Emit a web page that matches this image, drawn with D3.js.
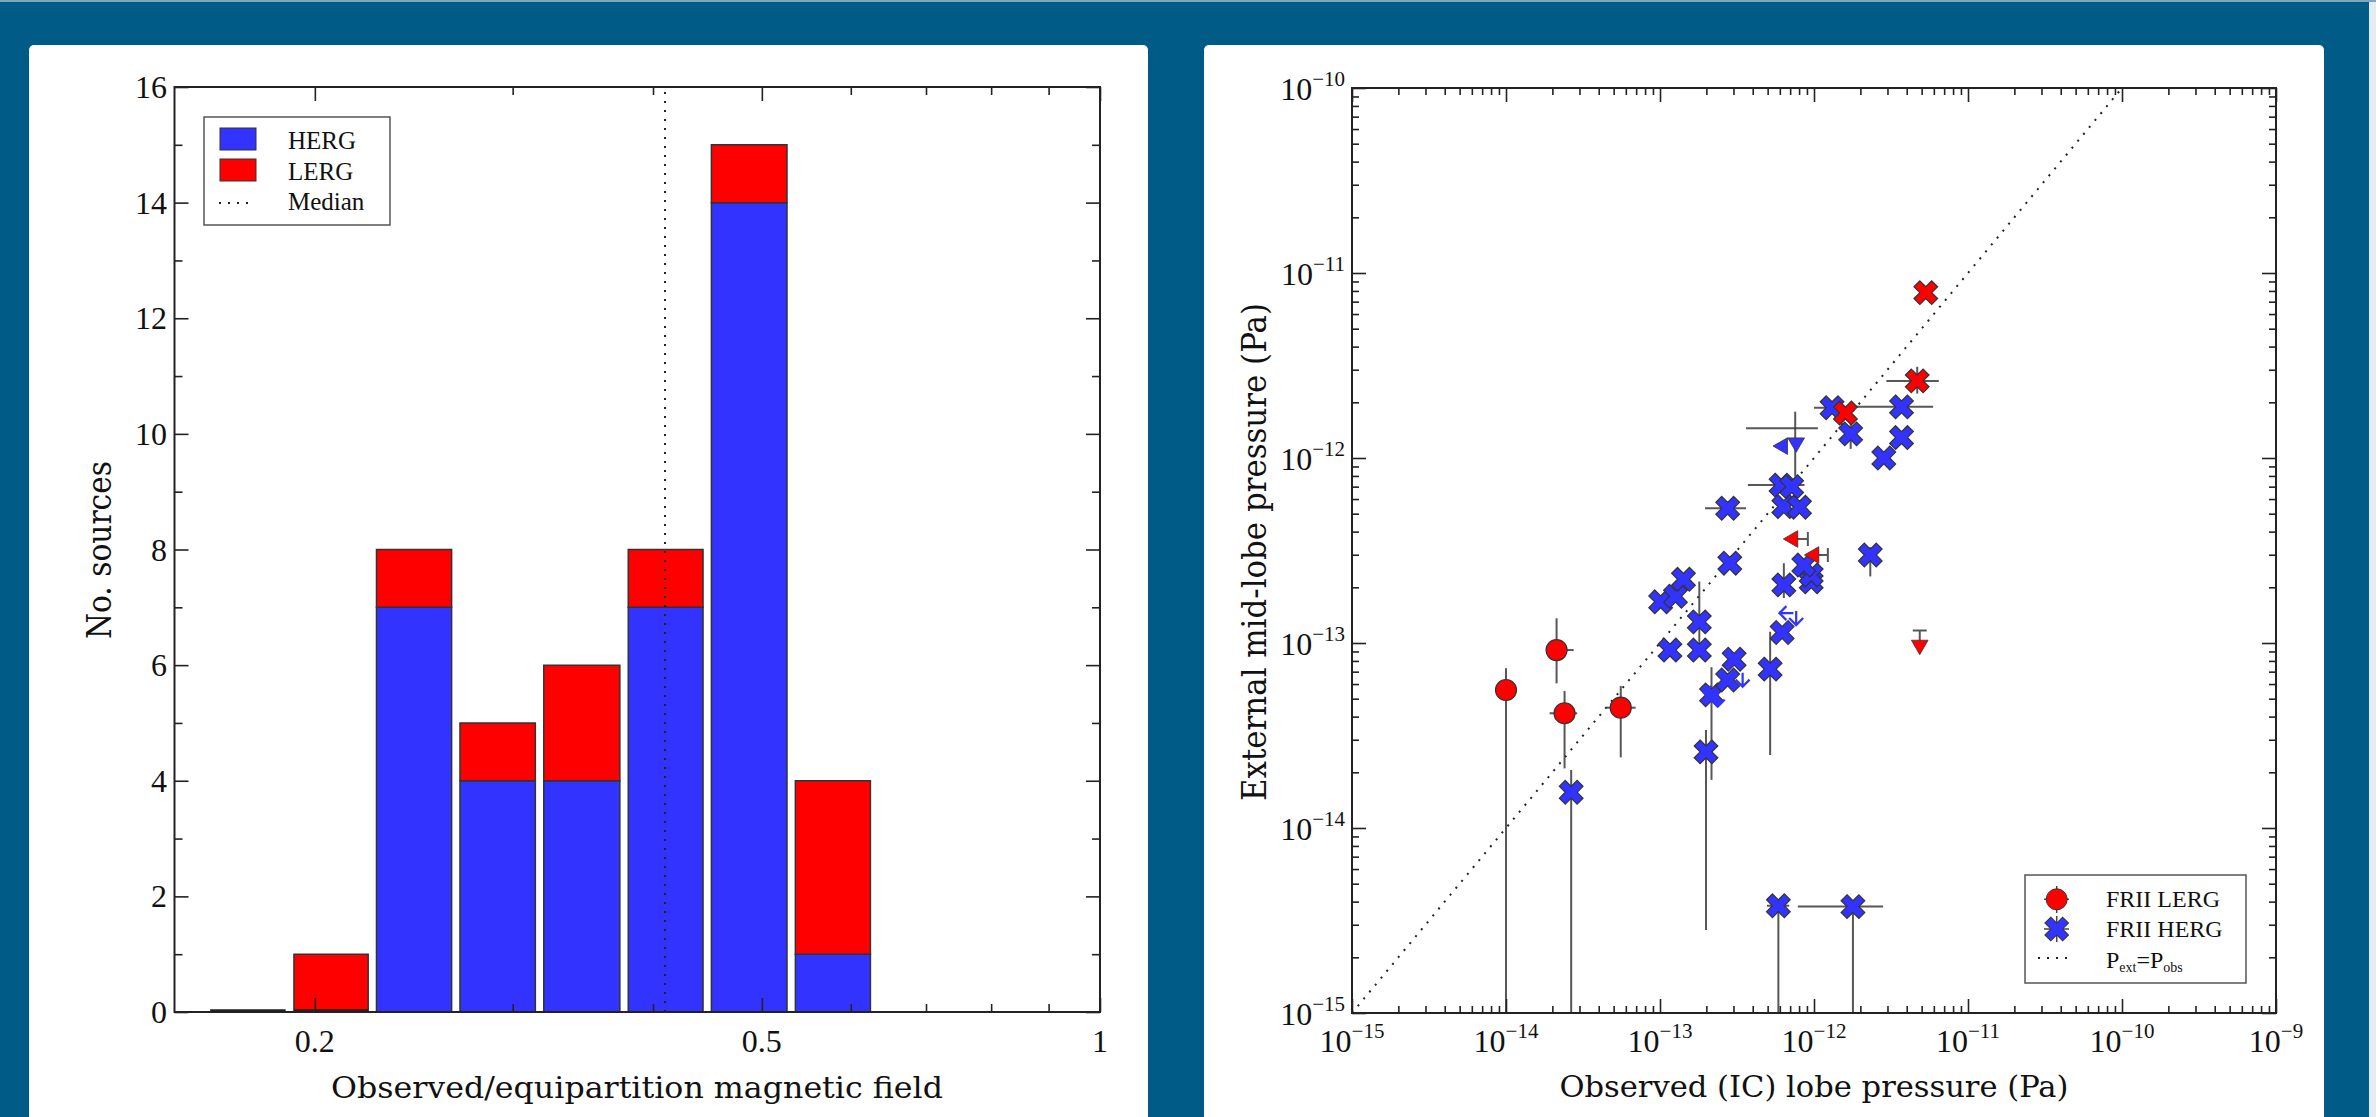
<!DOCTYPE html>
<html>
<head>
<meta charset="utf-8">
<script src="https://cdn.jsdelivr.net/npm/d3@7"></script>
<style>
body{margin:0;background:#005b87;overflow:hidden}
svg text{font-family:"Liberation Serif",serif;fill:#111}
</style>
</head>
<body>
<svg id="chart" width="2376" height="1117"></svg>
<script>
// ---- left panel: histogram of B_obs/B_eq ----
var binEdges=[0.160,0.190,0.225,0.267,0.317,0.377,0.447,0.531,0.630];
var hergCounts=[0,0,7,4,4,7,14,1];
var lergCounts=[0,1,1,1,2,1,1,3];
var medianRatio=0.41;
var histXTicks=[0.2,0.5,1];
var histXMinor=[0.3,0.4,0.6,0.7,0.8,0.9];
var histYTicks=[0,2,4,6,8,10,12,14,16];
var histYMinor=[1,3,5,7,9,11,13,15];

// ---- right panel: pressures (Pa), ylo 1e-16 = bar runs off the axis ----
var lergCircles=[
  {x:1.0e-14,y:5.57e-14,ylo:1e-16,yhi:7.3e-14},
  {x:2.13e-14,y:9.16e-14,xlo:1.83e-14,xhi:2.75e-14,ylo:6.05e-14,yhi:1.36e-13},
  {x:2.40e-14,y:4.17e-14,xlo:1.92e-14,xhi:2.90e-14,ylo:2.10e-14,yhi:5.5e-14},
  {x:5.56e-14,y:4.47e-14,xlo:4.44e-14,xhi:6.95e-14,ylo:2.41e-14,yhi:5.86e-14}
];
var lergCrosses=[
  {x:5.32e-12,y:7.83e-12},
  {x:4.68e-12,y:2.61e-12,xlo:2.95e-12,xhi:6.46e-12,ylo:2.23e-12,yhi:3.11e-12},
  {x:1.60e-12,y:1.75e-12}
];
var lergLimits=[
  {x:7.30e-13,y:3.65e-13,dir:"left",lo:7.66e-13,hi:9.12e-13},
  {x:1.00e-12,y:2.99e-13,dir:"left",lo:1.05e-12,hi:1.23e-12},
  {x:4.86e-12,y:9.75e-14,dir:"down",lo:1.02e-13,hi:1.17e-13}
];
var hergPoints=[
  {x:2.65e-14,y:1.56e-14,ylo:1e-16,yhi:2.06e-14},
  {x:5.87e-13,y:3.80e-15,xlo:4.95e-13,xhi:6.90e-13,ylo:1e-16},
  {x:1.79e-12,y:3.76e-15,xlo:7.85e-13,xhi:2.81e-12,ylo:1e-16},
  {x:1.99e-13,y:2.58e-14,ylo:2.81e-15,yhi:3.39e-14},
  {x:2.16e-13,y:5.24e-14,ylo:1.82e-14,yhi:7.40e-14},
  {x:2.75e-13,y:6.31e-14},
  {x:3.03e-13,y:8.17e-14},
  {x:5.19e-13,y:7.23e-14,ylo:2.48e-14,yhi:1.15e-13},
  {x:6.21e-13,y:1.14e-13},
  {x:6.37e-13,y:2.06e-13,ylo:1.75e-13,yhi:2.70e-13},
  {x:9.59e-13,y:2.14e-13},
  {x:9.59e-13,y:2.33e-13},
  {x:8.59e-13,y:2.64e-13},
  {x:2.84e-13,y:2.70e-13},
  {x:1.80e-13,y:1.30e-13,ylo:9.5e-14,yhi:2.15e-13},
  {x:1.80e-13,y:9.16e-14},
  {x:1.16e-13,y:9.16e-14},
  {x:1.01e-13,y:1.67e-13},
  {x:1.26e-13,y:1.79e-13},
  {x:1.42e-13,y:2.21e-13},
  {x:2.32e-12,y:2.99e-13,ylo:2.29e-13,yhi:3.3e-13},
  {x:2.75e-13,y:5.35e-13,xlo:1.96e-13,xhi:3.62e-13},
  {x:6.37e-13,y:5.46e-13},
  {x:8.05e-13,y:5.42e-13},
  {x:6.11e-13,y:7.14e-13,xlo:3.72e-13,xhi:8.67e-13},
  {x:7.16e-13,y:7.00e-13},
  {x:1.31e-12,y:1.87e-12,xlo:1.0e-12,xhi:1.74e-12},
  {x:3.70e-12,y:1.89e-12,xlo:1.84e-12,xhi:5.94e-12},
  {x:1.73e-12,y:1.35e-12,ylo:1.12e-12,yhi:1.58e-12},
  {x:3.70e-12,y:1.29e-12},
  {x:2.84e-12,y:1.00e-12}
];
// the one HERG upper limit drawn with a plain cross and filled arrows
var hergLimitBar={x:7.55e-13,y:1.45e-12,xlo:3.62e-13,xhi:1.06e-12,ylo:7.93e-13,yhi:1.78e-12};
var hergLimitMarks=[{x:6.26e-13,y:1.16e-12,dir:"left"},{x:7.66e-13,y:1.21e-12,dir:"down"}];
var hergArrows=[
  {x:2.37e-13,y:4.53e-14,dir:"down"},
  {x:3.44e-13,y:5.81e-14,dir:"down"},
  {x:5.96e-13,y:1.45e-13,dir:"left"},
  {x:7.66e-13,y:1.25e-13,dir:"down"},
  {x:1.93e-13,y:5.37e-14,dir:"left"}
];
var presXTicks=[1e-15,1e-14,1e-13,1e-12,1e-11,1e-10,1e-9];
var presYTicks=[1e-15,1e-14,1e-13,1e-12,1e-11,1e-10];

var blue="#3333ff", red="#ff0000", edge="#333";

var svg=d3.select("#chart");
svg.append("rect").attr("width",2376).attr("height",1117).attr("fill","#005b87");
svg.append("rect").attr("x",2369).attr("width",7).attr("height",1117).attr("fill","#e4ecf1");
svg.append("rect").attr("width",2376).attr("height",2).attr("fill","#7fa6bd");
svg.append("rect").attr("x",29).attr("y",45).attr("width",1119).attr("height",1100).attr("rx",5).attr("fill","#fff");
svg.append("rect").attr("x",1204).attr("y",45).attr("width",1120).attr("height",1100).attr("rx",5).attr("fill","#fff");

//minor ticks for a log scale between two powers of ten
var logMinor=function(lo,hi){
  var out=[];
  for(var p=lo;p<hi;p++){
    for(var m=2;m<10;m++){out.push(m*Math.pow(10,p));}
  }
  return out;
}

//inward ticks on all four sides, labels drawn elsewhere
var frameTicks=function(g,x,y,xv,yv,len){
  var r=x.range(), t=y.range();
  var kill=function(s){s.select(".domain").remove();s.selectAll("line").attr("stroke","#222").attr("stroke-width",1.6);};
  g.append("g").attr("transform","translate(0,"+t[0]+")").call(d3.axisBottom(x).tickValues(xv).tickSize(-len).tickFormat("")).call(kill);
  g.append("g").attr("transform","translate(0,"+t[1]+")").call(d3.axisTop(x).tickValues(xv).tickSize(-len).tickFormat("")).call(kill);
  g.append("g").attr("transform","translate("+r[0]+",0)").call(d3.axisLeft(y).tickValues(yv).tickSize(-len).tickFormat("")).call(kill);
  g.append("g").attr("transform","translate("+r[1]+",0)").call(d3.axisRight(y).tickValues(yv).tickSize(-len).tickFormat("")).call(kill);
}

// ================= histogram =================
var hx=d3.scaleLog().domain([0.15,1]).range([174.5,1100]);
var hy=d3.scaleLinear().domain([0,16]).range([1012,87]);
var gL=svg.append("g");

var bins=hergCounts.map(function(h,i){return {x0:binEdges[i],x1:binEdges[i+1],herg:h,lerg:lergCounts[i]};});
var barPath=function(b,lo,hi){
  var a=hx(b.x0), w=hx(b.x1)-a;
  var l=a+0.05*w, rr=a+0.95*w;
  return "M"+l+","+hy(lo)+"H"+rr+"V"+hy(hi)+"H"+l+"Z";
}
gL.selectAll(".herg").data(bins).enter().append("path").attr("class","herg")
  .attr("d",function(d){return barPath(d,0,d.herg);})
  .attr("fill",blue).attr("stroke",edge).attr("stroke-width",1.5);
gL.selectAll(".lerg").data(bins.filter(function(d){return d.lerg>0;})).enter().append("path").attr("class","lerg")
  .attr("d",function(d){return barPath(d,d.herg,d.herg+d.lerg);})
  .attr("fill",red).attr("stroke",edge).attr("stroke-width",1.5);

gL.append("line").attr("x1",hx(medianRatio)).attr("x2",hx(medianRatio)).attr("y1",hy(0)).attr("y2",hy(16))
  .attr("stroke","#222").attr("stroke-width",2).attr("stroke-dasharray","2,7");

frameTicks(gL,hx,hy,histXTicks,histYTicks,14);
frameTicks(gL,hx,hy,histXMinor,histYMinor,8);
gL.append("rect").attr("x",174.5).attr("y",87).attr("width",1100-174.5).attr("height",1012-87)
  .attr("fill","none").attr("stroke","#222").attr("stroke-width",2);
//empty bins still show their edge on the baseline
gL.selectAll(".zero").data(bins.filter(function(d){return d.herg==0;})).enter().append("path").attr("class","zero")
  .attr("d",function(d){return barPath(d,0,0);}).attr("transform","translate(0,-1.5)")
  .attr("stroke","#222").attr("stroke-width",2.5);

gL.selectAll(".xl").data(histXTicks).enter().append("text").attr("class","xl")
  .attr("x",function(d){return hx(d);}).attr("y",1052).attr("text-anchor","middle")
  .style("font-size","32px").text(function(d){return d;});
gL.selectAll(".yl").data(histYTicks).enter().append("text").attr("class","yl")
  .attr("x",167).attr("y",function(d){return hy(d)+11;}).attr("text-anchor","end")
  .style("font-size","32px").text(function(d){return d;});

gL.append("text").attr("x",637).attr("y",1098).attr("text-anchor","middle")
  .attr("textLength",612).attr("lengthAdjust","spacingAndGlyphs")
  .style("font-family","DejaVu Serif").style("font-size","30px").text("Observed/equipartition magnetic field");
gL.append("text").attr("transform","translate(111,550) rotate(-90)").attr("text-anchor","middle")
  .attr("textLength",178).attr("lengthAdjust","spacingAndGlyphs")
  .style("font-family","DejaVu Serif").style("font-size","34px").text("No. sources");

//legend
var legL=gL.append("g");
legL.append("rect").attr("x",204).attr("y",117).attr("width",186).attr("height",108)
  .attr("fill","#fff").attr("stroke","#555").attr("stroke-width",1.5);
legL.append("rect").attr("x",220).attr("y",128).attr("width",36).attr("height",22).attr("fill",blue).attr("stroke",edge);
legL.append("rect").attr("x",220).attr("y",159).attr("width",36).attr("height",22).attr("fill",red).attr("stroke",edge);
legL.append("line").attr("x1",219).attr("x2",255).attr("y1",203).attr("y2",203)
  .attr("stroke","#222").attr("stroke-width",2).attr("stroke-dasharray","2,7");
legL.selectAll("text").data(["HERG","LERG","Median"]).enter().append("text")
  .attr("x",288).attr("y",function(d,i){return 149+i*30.5;}).style("font-size","25px").text(function(d){return d;});

// ================= pressure plot =================
var px=d3.scaleLog().domain([1e-15,1e-9]).range([1352,2276]);
var py=d3.scaleLog().domain([1e-15,1e-10]).range([1013,88]);
var gR=svg.append("g");
svg.append("clipPath").attr("id","clipR").append("rect").attr("x",1352).attr("y",88).attr("width",924).attr("height",925);
var plot=gR.append("g").attr("clip-path","url(#clipR)");

plot.append("line").attr("x1",px(1e-15)).attr("y1",py(1e-15)).attr("x2",px(1e-10)).attr("y2",py(1e-10))
  .attr("stroke","#222").attr("stroke-width",2).attr("stroke-dasharray","2,7");

var errs=plot.append("g").attr("stroke","#3a3a3a").attr("stroke-width",2).attr("stroke-opacity",0.85);
var drawErr=function(d){
  if(d.xlo){errs.append("line").attr("x1",px(d.xlo)).attr("x2",px(d.xhi)).attr("y1",py(d.y)).attr("y2",py(d.y));}
  if(d.ylo){errs.append("line").attr("x1",px(d.x)).attr("x2",px(d.x)).attr("y1",py(d.ylo)).attr("y2",py(d.yhi||d.y));}
}
lergCircles.forEach(drawErr);
lergCrosses.forEach(drawErr);
hergPoints.forEach(drawErr);
drawErr(hergLimitBar);

//limit bars with caps
lergLimits.forEach(function(d){
  if(d.dir=="left"){
    var a=px(d.lo), b=px(d.hi), yy=py(d.y);
    errs.append("path").attr("fill","none").attr("d","M"+a+","+yy+"H"+b+"M"+a+","+(yy-7)+"V"+(yy+7)+"M"+b+","+(yy-7)+"V"+(yy+7));
  }else{
    var t=py(d.hi), u=py(d.lo), xx=px(d.x);
    errs.append("path").attr("fill","none").attr("d","M"+xx+","+u+"V"+t+"M"+(xx-7)+","+t+"H"+(xx+7));
  }
});

var xShape=d3.symbol().type(d3.symbolCross).size(350);
var triShape=d3.symbol().type(d3.symbolTriangle).size(120);
var rot={left:-90,down:180};

plot.selectAll(".lc").data(lergCircles).enter().append("circle").attr("class","lc")
  .attr("cx",function(d){return px(d.x);}).attr("cy",function(d){return py(d.y);}).attr("r",10.5)
  .attr("fill",red).attr("stroke",edge).attr("stroke-width",1.2);
plot.selectAll(".hx").data(hergPoints).enter().append("path").attr("class","hx").attr("d",xShape)
  .attr("transform",function(d){return "translate("+px(d.x)+","+py(d.y)+") rotate(45)";})
  .attr("fill",blue).attr("stroke",edge).attr("stroke-width",1.2);
plot.selectAll(".lx").data(lergCrosses).enter().append("path").attr("class","lx").attr("d",xShape)
  .attr("transform",function(d){return "translate("+px(d.x)+","+py(d.y)+") rotate(45)";})
  .attr("fill",red).attr("stroke",edge).attr("stroke-width",1.2);
plot.selectAll(".lt").data(lergLimits).enter().append("path").attr("class","lt").attr("d",triShape)
  .attr("transform",function(d){return "translate("+px(d.x)+","+py(d.y)+") rotate("+rot[d.dir]+")";})
  .attr("fill",red).attr("stroke",edge).attr("stroke-width",0.8);
plot.selectAll(".ht").data(hergLimitMarks).enter().append("path").attr("class","ht").attr("d",triShape)
  .attr("transform",function(d){return "translate("+px(d.x)+","+py(d.y)+") rotate("+rot[d.dir]+")";})
  .attr("fill",blue).attr("stroke",edge).attr("stroke-width",0.8);
//open arrows (HERG limits)
plot.selectAll(".ha").data(hergArrows).enter().append("path").attr("class","ha")
  .attr("d","M0,-14V0M-7,-7L0,0L7,-7")
  .attr("transform",function(d){return "translate("+px(d.x)+","+py(d.y)+") rotate("+(d.dir=="left"?90:0)+")";})
  .attr("fill","none").attr("stroke",blue).attr("stroke-width",2.2);

frameTicks(gR,px,py,presXTicks,presYTicks,14);
frameTicks(gR,px,py,logMinor(-15,-9),logMinor(-15,-10),7);
gR.append("rect").attr("x",1352).attr("y",88).attr("width",924).attr("height",925)
  .attr("fill","none").attr("stroke","#222").attr("stroke-width",2);

//power-of-ten labels
var expo=function(d){return "\u2212"+Math.round(-Math.log10(d));}
var xl=gR.selectAll(".pxl").data(presXTicks).enter().append("text").attr("class","pxl")
  .attr("x",function(d){return px(d);}).attr("y",1052).attr("text-anchor","middle").style("font-size","32px");
xl.append("tspan").text("10");
xl.append("tspan").attr("dy",-14).style("font-size","21px").text(expo);
var yl=gR.selectAll(".pyl").data(presYTicks).enter().append("text").attr("class","pyl")
  .attr("x",1345).attr("y",function(d){return py(d)+12;}).attr("text-anchor","end").style("font-size","32px");
yl.append("tspan").text("10");
yl.append("tspan").attr("dy",-14).style("font-size","21px").text(expo);

gR.append("text").attr("x",1814).attr("y",1097).attr("text-anchor","middle")
  .attr("textLength",509).attr("lengthAdjust","spacingAndGlyphs")
  .style("font-family","DejaVu Serif").style("font-size","30px").text("Observed (IC) lobe pressure (Pa)");
gR.append("text").attr("transform","translate(1266,552) rotate(-90)").attr("text-anchor","middle")
  .attr("textLength",498).attr("lengthAdjust","spacingAndGlyphs")
  .style("font-family","DejaVu Serif").style("font-size","34px").text("External mid-lobe pressure (Pa)");

//legend
var legR=gR.append("g");
legR.append("rect").attr("x",2025).attr("y",875).attr("width",221).attr("height",108)
  .attr("fill","#fff").attr("stroke","#555").attr("stroke-width",1.5);
legR.append("path").attr("d","M2056.7,886V913M2044,899.3H2069").attr("stroke","#444").attr("stroke-width",1.5);
legR.append("circle").attr("cx",2056.7).attr("cy",899.3).attr("r",10.5).attr("fill",red).attr("stroke",edge);
legR.append("path").attr("d","M2056.7,916V942M2044,929H2069").attr("stroke","#444").attr("stroke-width",1.5);
legR.append("path").attr("d",xShape).attr("transform","translate(2056.7,929) rotate(45)").attr("fill",blue).attr("stroke",edge);
legR.append("line").attr("x1",2038).attr("x2",2074).attr("y1",958).attr("y2",958)
  .attr("stroke","#222").attr("stroke-width",2).attr("stroke-dasharray","2,7");
legR.append("text").attr("x",2106).attr("y",907).style("font-size","24px").text("FRII LERG");
legR.append("text").attr("x",2106).attr("y",937).style("font-size","24px").text("FRII HERG");
var pl=legR.append("text").attr("x",2106).attr("y",968).style("font-size","24px");
pl.append("tspan").text("P");
pl.append("tspan").attr("dy",4).style("font-size","14px").text("ext");
pl.append("tspan").attr("dy",-4).text("=P");
pl.append("tspan").attr("dy",4).style("font-size","14px").text("obs");
</script>
</body>
</html>
